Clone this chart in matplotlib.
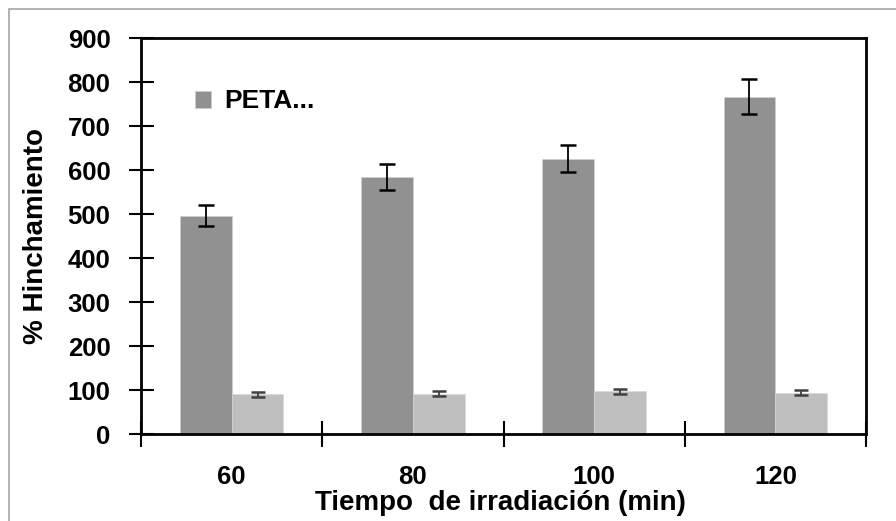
import matplotlib.pyplot as plt
import numpy as np
from matplotlib.patches import Rectangle

# tiempos de irradiacion (min) y % de hinchamiento
tiempos = ["60", "80", "100", "120"]
peta = [496, 584, 626, 767]
peta_err = [24, 30, 31, 39]
otra = [90, 92, 97, 94]
otra_err = [5, 5, 5, 5]

plt.rcParams['font.family'] = ['Liberation Sans', 'DejaVu Sans']
plt.rcParams['font.weight'] = 'bold'

fig = plt.figure(figsize=(8.96, 5.21), dpi=100)
W, H = 896, 521
ax = fig.add_axes([141 / W, 1 - 434 / H, (866 - 141) / W, (434 - 38) / H])

# marco gris del area del grafico
fig.patches.append(Rectangle((9 / W, -0.1), 1.2, 1 - 9 / H + 0.1, transform=fig.transFigure,
                             fill=False, edgecolor='#a6a6a6', linewidth=1.2))

x = np.arange(len(tiempos))
w = 0.286
ax.bar(x - w / 2, peta, w, color='#919191', edgecolor='#d0d0d0', linewidth=0.4,
       label='PETA...', zorder=2)
ax.bar(x + w / 2, otra, w, color='#bfbfbf', edgecolor='#d8d8d8', linewidth=0.4, zorder=2)
ax.errorbar(x - w / 2, peta, yerr=peta_err, fmt='none', ecolor='black', elinewidth=1.3,
            capsize=6, capthick=1.8, zorder=3)
ax.errorbar(x + w / 2, otra, yerr=otra_err, fmt='none', ecolor='#404040', elinewidth=1.3,
            capsize=5, capthick=1.8, zorder=3)

ax.set_xlim(-0.5, 3.5)
ax.set_ylim(0, 900)
ax.set_yticks(range(0, 901, 100))
ax.set_xticks(x)
ax.set_xticklabels(tiempos)
ax.set_xticks(np.arange(-0.5, 3.6, 1), minor=True)
ax.tick_params(axis='x', which='major', length=0, pad=22, labelsize=18.5)
ax.tick_params(axis='x', which='minor', direction='inout', length=19, width=1.5)
ax.tick_params(axis='y', direction='inout', length=18, width=1.5, labelsize=18.5, pad=13)
for lbl in ax.get_xticklabels() + ax.get_yticklabels():
    lbl.set_fontweight('bold')
for s in ax.spines.values():
    s.set_linewidth(2)

fig.text(500 / W, 1 - 503 / H, 'Tiempo  de irradiación (min)', ha='center', va='center',
         fontsize=20, fontweight='bold')
fig.text(36 / W, 1 - 236 / H, '% Hinchamiento', ha='center', va='center', rotation=90,
         fontsize=20, fontweight='bold')

ax.legend(loc='upper left', bbox_to_anchor=(0.042, 0.93), frameon=False,
          prop={'size': 19, 'weight': 'bold'}, handlelength=0.6, handleheight=0.6,
          handletextpad=0.5)

fig.savefig('out.png', dpi=100)
